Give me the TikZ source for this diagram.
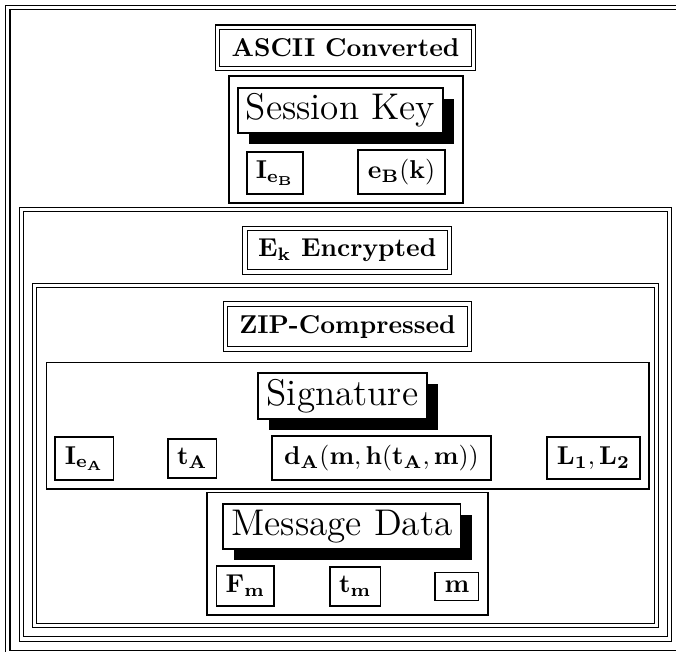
\documentclass[tikz,border=0pt]{standalone}
\usetikzlibrary{shadows}
\newcommand\boxat[6]{\node[#1, minimum width={(#4-#2)*0.3876pt}, minimum height={(#5-#3)*0.3876pt}] (#6) at ({(#2+#4)/2},{(#3+#5)/2})}
\begin{document}
\begin{tikzpicture}[x=0.3876pt,y=-0.3876pt,
  frame/.style={draw, double, line width=0.45pt, double distance=1.2pt, inner sep=0pt},
  titlebox/.style={draw, double, line width=0.45pt, double distance=1.3pt, inner sep=0pt, font=\bfseries},
  group/.style={draw, line width=0.45pt, inner sep=0pt},
  head/.style={draw, fill=white, inner sep=0pt, font=\Large, line width=0.45pt,
    drop shadow={shadow xshift=4.26pt, shadow yshift=-4.26pt, opacity=1, fill=black}},
  item/.style={draw, inner sep=0pt, line width=0.45pt}]
\useasboundingbox (0,0) rectangle (676,651);
% outer frames
\boxat{frame}{7.8}{7.5}{683}{652.5}{outer} {};
\boxat{frame}{21.5}{209.5}{669.5}{639}{encframe} {};
\boxat{frame}{34.6}{285.3}{656.4}{625.7}{zipframe} {};
% ASCII part
\boxat{titlebox}{217.5}{27.3}{473.5}{68.5}{ascii} {ASCII Converted};
\boxat{group}{229}{76}{463}{203}{skgroup} {};
\boxat{head}{238}{88}{443}{133}{sk} {Session Key};
\boxat{item}{247}{152}{303}{194}{ieb} {$\mathbf{I_{e_B}}$};
\boxat{item}{358}{150}{445}{194}{ebk} {$\mathbf{e_B(k)}$};
% encrypted
\boxat{titlebox}{245}{228.5}{449.5}{272}{enc} {$\mathbf{E_k}$ Encrypted};
% zip
\boxat{titlebox}{225.5}{304}{469.5}{349}{zip} {ZIP-Compressed};
% signature
\boxat{group}{46.4}{362.5}{649}{489}{siggroup} {};
\boxat{head}{258}{373}{427}{419}{sig} {Signature};
\boxat{item}{55}{437}{113.5}{480}{iea} {$\mathbf{I_{e_A}}$};
\boxat{item}{168}{439}{216.6}{478}{ta} {$\mathbf{t_A}$};
\boxat{item}{272}{436}{491}{480}{da} {$\mathbf{d_A(m,h(t_A,m))}$};
\boxat{item}{547}{437}{640}{479}{ll} {$\mathbf{L_1,L_2}$};
% message
\boxat{group}{207}{492.5}{488}{615}{msggroup} {};
\boxat{head}{223}{504}{460.6}{549}{msg} {Message Data};
\boxat{item}{216.6}{566}{274}{606}{fm} {$\mathbf{F_m}$};
\boxat{item}{330}{567}{380.4}{606}{tm} {$\mathbf{t_m}$};
\boxat{item}{435}{572.7}{478.8}{600.7}{m} {$\mathbf{m}$};
\end{tikzpicture}
\end{document}
